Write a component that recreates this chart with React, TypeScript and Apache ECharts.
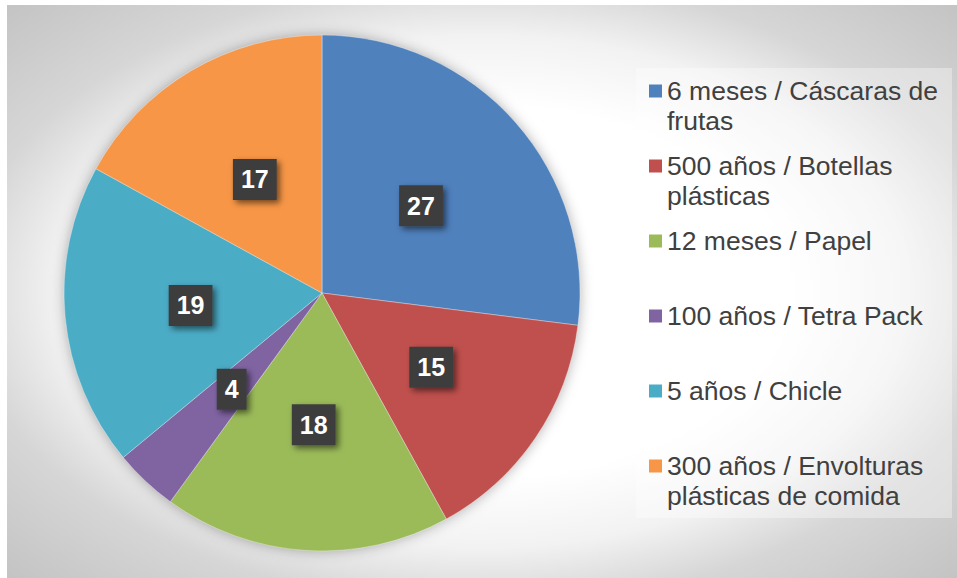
import React, { useEffect, useRef } from 'react';
import * as echarts from 'echarts';

const categories = [
  '6 meses / Cáscaras de frutas',
  '500 años / Botellas plásticas',
  '12 meses / Papel',
  '100 años / Tetra Pack',
  '5 años / Chicle',
  '300 años / Envolturas plásticas de comida',
];
const legendLabels = [
  '6 meses / Cáscaras de\nfrutas',
  '500 años / Botellas\nplásticas',
  '12 meses / Papel',
  '100 años / Tetra Pack',
  '5 años / Chicle',
  '300 años / Envolturas\nplásticas de comida',
];
const values = [27, 15, 18, 4, 19, 17];
const colors = ['#4f81bd', '#c0504d', '#9bbb59', '#8064a2', '#4bacc6', '#f79646'];

const FONT = 'Arial, "Liberation Sans", sans-serif';
const PIE_CX = 322;
const PIE_CY = 293;
const PIE_R = 258;
const LEGEND_CENTERS = [91, 166, 241, 316, 391, 466];
const LINE_H = 30;

export default function App() {
  const ref = useRef<HTMLDivElement>(null);
  useEffect(() => {
    if (!ref.current) return;
    const chart = echarts.init(ref.current, undefined, { renderer: 'svg' });
    const bg = new echarts.graphic.RadialGradient(0.5, 0.5, 0.72, [
      { offset: 0, color: '#ffffff' },
      { offset: 0.45, color: '#ffffff' },
      { offset: 0.62, color: '#f2f2f2' },
      { offset: 0.76, color: '#d6d6d6' },
      { offset: 1, color: '#c2c2c2' },
    ]);
    const legends = categories.map((name, i) => {
      const two = legendLabels[i].indexOf('\n') >= 0;
      // for two-line entries a leading empty line keeps the square on the first line
      const text = two ? '\n' + legendLabels[i] : legendLabels[i];
      return {
        show: true,
        orient: 'vertical',
        left: 649,
        top: LEGEND_CENTERS[i] - (two ? 1.5 * LINE_H : 0.5 * LINE_H),
        padding: 0,
        itemWidth: 13,
        itemHeight: 13,
        itemGap: 0,
        icon: 'rect',
        selectedMode: false,
        itemStyle: { borderWidth: 0 },
        data: [name],
        formatter: () => text,
        textStyle: {
          fontSize: 26.5,
          lineHeight: LINE_H,
          color: '#404040',
          fontFamily: FONT,
        },
      };
    });
    chart.setOption({
      animation: false,
      graphic: [
        {
          type: 'rect',
          z: -10,
          silent: true,
          shape: { x: 7, y: 5, width: 950, height: 573 },
          style: { fill: bg },
        },
        {
          type: 'rect',
          z: -5,
          silent: true,
          shape: { x: 636, y: 68, width: 316, height: 450 },
          style: { fill: 'rgba(255,255,255,0.35)' },
        },
        {
          type: 'circle',
          z: -4,
          silent: true,
          shape: { cx: PIE_CX, cy: PIE_CY, r: PIE_R - 1 },
          style: { fill: '#999999', shadowBlur: 14, shadowColor: 'rgba(0,0,0,0.35)' },
        },
      ],
      legend: legends,
      series: [
        {
          type: 'pie',
          center: [PIE_CX, PIE_CY],
          radius: PIE_R,
          startAngle: 90,
          clockwise: true,
          avoidLabelOverlap: false,
          silent: true,
          emphasis: { disabled: true },
          data: categories.map((n, i) => ({
            name: n,
            value: values[i],
            itemStyle: { color: colors[i] },
          })),
          itemStyle: { borderColor: 'rgba(255,255,255,0.35)', borderWidth: 1 },
          labelLine: { show: false },
          label: {
            show: true,
            position: 'inside',
            formatter: '{c}',
            color: '#ffffff',
            fontSize: 25,
            fontWeight: 'bold',
            fontFamily: FONT,
            lineHeight: 25,
            backgroundColor: '#3e3e3e',
            padding: [8, 8],
            shadowColor: 'rgba(0,0,0,0.55)',
            shadowBlur: 6,
            shadowOffsetX: 3,
            shadowOffsetY: 3,
          },
        },
      ],
    });
    return () => chart.dispose();
  }, []);
  return (
    <div
      ref={ref}
      style={{ position: 'fixed', left: 0, top: 0, width: 957, height: 578, background: '#ffffff' }}
    />
  );
}
